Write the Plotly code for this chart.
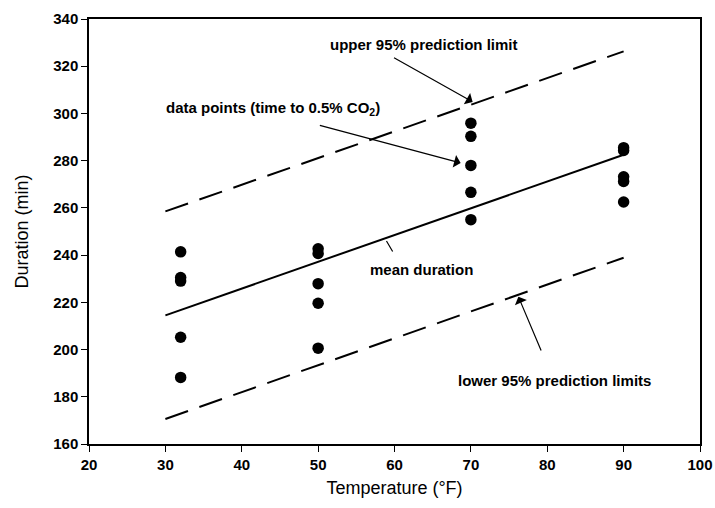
import plotly.graph_objects as go

# Data
temp_pts = [32, 32, 32, 32, 32,
            50, 50, 50, 50, 50,
            70, 70, 70, 70, 70,
            90, 90, 90, 90, 90]
duration_pts = [241.4, 230.5, 229.0, 205.2, 188.2,
                242.7, 240.7, 227.9, 219.6, 200.6,
                295.9, 290.3, 278.0, 266.6, 255.0,
                285.5, 284.3, 273.2, 271.2, 262.5]

fit_temp = [30, 90]
mean_dur = [214.5, 282.5]
upper_lim = [258.5, 326.3]
lower_lim = [170.6, 238.9]

x_ticks = [20, 30, 40, 50, 60, 70, 80, 90, 100]
y_ticks = [160, 180, 200, 220, 240, 260, 280, 300, 320, 340]

FONT = "Liberation Sans, Arial, sans-serif"

fig = go.Figure()
fig.add_trace(go.Scatter(x=fit_temp, y=upper_lim, mode="lines",
                         line=dict(color="black", width=2, dash="24px,12px"),
                         showlegend=False, hoverinfo="skip"))
fig.add_trace(go.Scatter(x=fit_temp, y=lower_lim, mode="lines",
                         line=dict(color="black", width=2, dash="24px,12px"),
                         showlegend=False, hoverinfo="skip"))
fig.add_trace(go.Scatter(x=fit_temp, y=mean_dur, mode="lines",
                         line=dict(color="black", width=2),
                         showlegend=False, hoverinfo="skip"))
fig.add_trace(go.Scatter(x=temp_pts, y=duration_pts, mode="markers",
                         marker=dict(color="black", size=11.5, symbol="circle"),
                         showlegend=False))

lab_font = dict(family=FONT, size=15, color="black", weight="bold")

annotations = [
    # text labels
    dict(x=63.9, y=329.0, text="upper 95% prediction limit", showarrow=False, font=lab_font),
    dict(x=44.1, y=302.3, text="data points (time to 0.5% CO<sub>2</sub>)", showarrow=False, font=lab_font),
    dict(x=63.5, y=234.1, text="mean duration", showarrow=False, font=lab_font),
    dict(x=80.9, y=186.7, text="lower 95% prediction limits", showarrow=False, font=lab_font),
    # arrows
    dict(x=70.23, y=304.9, ax=59.74, ay=323.9, axref="x", ayref="y", xref="x", yref="y",
         text="", showarrow=True, arrowhead=1, arrowsize=1.8, arrowwidth=1.2, arrowcolor="black"),
    dict(x=68.66, y=279.0, ax=50.03, ay=295.1, axref="x", ayref="y", xref="x", yref="y",
         text="", showarrow=True, arrowhead=1, arrowsize=1.8, arrowwidth=1.2, arrowcolor="black"),
    dict(x=76.22, y=222.4, ax=79.28, ay=199.0, axref="x", ayref="y", xref="x", yref="y",
         text="", showarrow=True, arrowhead=1, arrowsize=1.8, arrowwidth=1.2, arrowcolor="black"),
    dict(x=58.95, y=246.0, ax=59.87, ay=240.9, axref="x", ayref="y", xref="x", yref="y",
         text="", showarrow=True, arrowhead=0, arrowwidth=1.2, arrowcolor="black"),
]

fig.update_layout(
    width=715, height=508,
    margin=dict(l=89, r=15, t=19, b=64),
    plot_bgcolor="white", paper_bgcolor="white",
    annotations=annotations,
    font=dict(family=FONT, color="black"),
)
fig.update_xaxes(range=[20, 100], tickvals=x_ticks, ticktext=[str(v) for v in x_ticks],
                 showgrid=False, zeroline=False, showline=True, linecolor="black", linewidth=1.5,
                 mirror=True, ticks="outside", ticklen=6, tickcolor="black", automargin=False,
                 tickfont=dict(family=FONT, size=15, color="black", weight="bold"),
                 title=dict(text="Temperature (°F)", font=dict(family=FONT, size=18, color="black"),
                            standoff=10))
fig.update_yaxes(range=[160, 340], tickvals=y_ticks, ticktext=[str(v) for v in y_ticks],
                 showgrid=False, zeroline=False, showline=True, linecolor="black", linewidth=1.5,
                 mirror=True, ticks="outside", ticklen=6, tickcolor="black", automargin=False,
                 tickfont=dict(family=FONT, size=15, color="black", weight="bold"),
                 title=dict(text="Duration (min)", font=dict(family=FONT, size=18, color="black"),
                            standoff=20))

fig.write_html("out.html",
               config={"displayModeBar": False},
               post_script="document.body.style.margin='0';document.body.style.overflow='hidden';")
